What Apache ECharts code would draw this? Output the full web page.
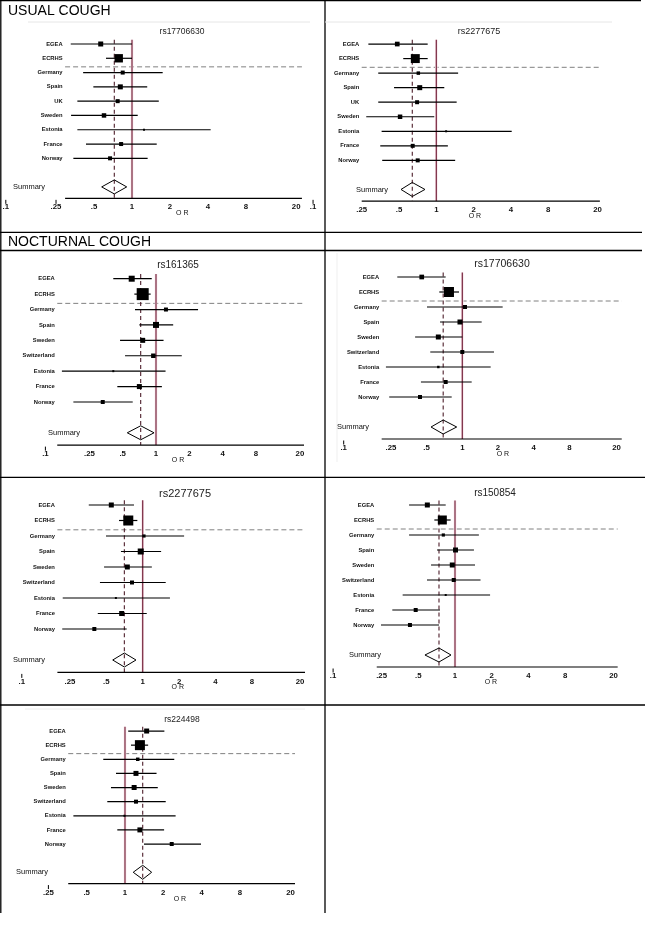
<!DOCTYPE html>
<html><head><meta charset="utf-8">
<script src="https://cdn.jsdelivr.net/npm/echarts@6/dist/echarts.min.js"></script>
<style>html,body{margin:0;padding:0;background:#fff}#c{width:656px;height:931px}</style>
</head><body><div id="c"></div>
<script>
// ---------------- DATA ----------------
const ROWS_USUAL = ['EGEA','ECRHS','Germany','Spain','UK','Sweden','Estonia','France','Norway'];
const ROWS_NOCT  = ['EGEA','ECRHS','Germany','Spain','Sweden','Switzerland','Estonia','France','Norway'];

const TICKS_FULL = [0.1, 0.25, 0.5, 1, 2, 4, 8, 20];
const TICK_TEXT_FULL = ['.1', '.25', '.5', '1', '2', '4', '8', '20'];
const TICKS_SHORT = [0.25, 0.5, 1, 2, 4, 8, 20];
const TICK_TEXT_SHORT = ['.25', '.5', '1', '2', '4', '8', '20'];

// Usual cough - rs17706630
const p1Or     = [0.565, 0.785, 0.844, 0.808, 0.77, 0.60, 1.245, 0.82, 0.67];
const p1Lo     = [0.327, 0.622, 0.41, 0.494, 0.369, 0.329, 0.369, 0.432, 0.343];
const p1Hi     = [1.0, 1.0, 1.75, 1.32, 1.63, 1.11, 4.2, 1.57, 1.33];
const p1Weight = [25, 70, 16, 25, 16, 20, 4, 16, 16];
const p1Summary = [0.724, 0.575, 0.908];   // estimate, lower, upper
const p1AxisSpan = [0.295, 22.2];

// Usual cough - rs2277675
const p2Or     = [0.484, 0.677, 0.716, 0.735, 0.70, 0.51, 1.2, 0.645, 0.708];
const p2Lo     = [0.283, 0.541, 0.34, 0.456, 0.34, 0.272, 0.362, 0.353, 0.366];
const p2Hi     = [0.852, 0.852, 1.5, 1.16, 1.46, 0.963, 4.06, 1.24, 1.42];
const p2Weight = [22, 80, 12, 25, 16, 20, 4, 16, 16];
const p2Summary = [0.64, 0.519, 0.81];
const p2AxisSpan = [0.25, 20.9];

// Nocturnal cough - rs161365
const p3Or     = [0.603, 0.758, 1.23, 1.0, 0.758, 0.946, 0.411, 0.707, 0.33];
const p3Lo     = [0.411, 0.637, 0.646, 0.707, 0.473, 0.525, 0.141, 0.447, 0.179];
const p3Hi     = [0.915, 0.895, 2.4, 1.43, 1.17, 1.71, 1.22, 1.13, 0.616];
const p3Weight = [36, 144, 16, 36, 25, 20, 4, 25, 16];
const p3Summary = [0.727, 0.55, 0.96];
const p3AxisSpan = [0.128, 21.8];

// Nocturnal cough - rs17706630
const p4Or     = [0.455, 0.772, 1.054, 0.956, 0.628, 1.0, 0.628, 0.724, 0.44];
const p4Lo     = [0.283, 0.64, 0.504, 0.649, 0.40, 0.537, 0.227, 0.448, 0.242];
const p4Hi     = [0.724, 0.938, 2.19, 1.457, 1.0, 1.85, 1.735, 1.2, 0.814];
const p4Weight = [22, 100, 16, 25, 25, 16, 6, 16, 16];
const p4Summary = [0.69, 0.545, 0.897];
const p4AxisSpan = [0.209, 22.1];

// Nocturnal cough - rs2277675
const p5Or     = [0.55, 0.76, 1.025, 0.963, 0.746, 0.816, 0.6, 0.67, 0.398];
const p5Lo     = [0.358, 0.637, 0.497, 0.661, 0.479, 0.443, 0.218, 0.425, 0.216];
const p5Hi     = [0.847, 0.903, 2.2, 1.42, 1.19, 1.55, 1.68, 1.08, 0.737];
const p5Weight = [25, 100, 10, 36, 25, 16, 4, 25, 16];
const p5Summary = [0.705, 0.565, 0.88];
const p5AxisSpan = [0.197, 22.0];

// Nocturnal cough - rs150854
const p6Or     = [0.593, 0.787, 0.802, 1.01, 0.95, 0.976, 0.839, 0.476, 0.427];
const p6Lo     = [0.42, 0.677, 0.42, 0.712, 0.636, 0.589, 0.372, 0.306, 0.247];
const p6Hi     = [0.839, 0.921, 1.57, 1.43, 1.46, 1.62, 1.94, 0.753, 0.739];
const p6Weight = [25, 81, 10, 25, 25, 16, 4, 16, 16];
const p6Summary = [0.739, 0.567, 0.927];
const p6AxisSpan = [0.228, 21.6];

// Nocturnal cough - rs224498
const p7Or     = [1.48, 1.31, 1.26, 1.22, 1.18, 1.22, 0.99, 1.31, 2.33];
const p7Lo     = [1.06, 1.115, 0.675, 0.85, 0.776, 0.726, 0.393, 0.87, 1.41];
const p7Hi     = [2.04, 1.52, 2.44, 1.77, 1.81, 2.09, 2.5, 2.03, 3.96];
const p7Weight = [25, 100, 12, 25, 25, 16, 4, 25, 16];
const p7Summary = [1.378, 1.16, 1.62];
const p7AxisSpan = [0.358, 21.7];

// ---------------- LAYOUT ----------------
const FONT = '"Liberation Sans", Arial, sans-serif';
const TOP_ROW = -0.3, SEP_ROW = 1.6, SUM_ROW = 10, AXIS_ROW = 10.8;

const panels = [
  {title:'rs17706630', rows:ROWS_USUAL, or:p1Or, lo:p1Lo, hi:p1Hi, w:p1Weight, sum:p1Summary, span:p1AxisSpan,
   ticks:TICKS_FULL.concat([27.2]), tickText:TICK_TEXT_FULL.concat(['.1']),
   L:{xMin:0.1, xMax:20, left:5.8, width:290.4, top:29.7, height:171.5, tx:182, ty:32, ts:8.5, sumX:13, orAt:2.5}},
  {title:'rs2277675', rows:ROWS_USUAL, or:p2Or, lo:p2Lo, hi:p2Hi, w:p2Weight, sum:p2Summary, span:p2AxisSpan,
   ticks:TICKS_SHORT, tickText:TICK_TEXT_SHORT,
   L:{xMin:0.25, xMax:20, left:361.7, width:235.8, top:29.5, height:174.5, tx:479, ty:32, ts:9, sumX:356, orAt:2.05}},
  {title:'rs161365', rows:ROWS_NOCT, or:p3Or, lo:p3Lo, hi:p3Hi, w:p3Weight, sum:p3Summary, span:p3AxisSpan,
   ticks:TICKS_FULL, tickText:TICK_TEXT_FULL,
   L:{xMin:0.1, xMax:20, left:45.4, width:254.5, top:263.3, height:184.9, tx:178, ty:265.5, ts:10, sumX:48, orAt:1.58}},
  {title:'rs17706630', rows:ROWS_NOCT, or:p4Or, lo:p4Lo, hi:p4Hi, w:p4Weight, sum:p4Summary, span:p4AxisSpan,
   ticks:TICKS_FULL, tickText:TICK_TEXT_FULL,
   L:{xMin:0.1, xMax:20, left:343.7, width:272.9, top:262, height:180, tx:502, ty:264.5, ts:10.5, sumX:337, orAt:2.2}},
  {title:'rs2277675', rows:ROWS_NOCT, or:p5Or, lo:p5Lo, hi:p5Hi, w:p5Weight, sum:p5Summary, span:p5AxisSpan,
   ticks:TICKS_FULL, tickText:TICK_TEXT_FULL,
   L:{xMin:0.1, xMax:20, left:21.8, width:278.2, top:489.5, height:186, tx:185, ty:493.5, ts:11, sumX:13, orAt:1.95}},
  {title:'rs150854', rows:ROWS_NOCT, or:p6Or, lo:p6Lo, hi:p6Hi, w:p6Weight, sum:p6Summary, span:p6AxisSpan,
   ticks:TICKS_FULL, tickText:TICK_TEXT_FULL,
   L:{xMin:0.1, xMax:20, left:333.1, width:280.5, top:490, height:180, tx:495, ty:493, ts:10, sumX:349, orAt:1.97}},
  {title:'rs224498', rows:ROWS_NOCT, or:p7Or, lo:p7Lo, hi:p7Hi, w:p7Weight, sum:p7Summary, span:p7AxisSpan,
   ticks:TICKS_SHORT, tickText:TICK_TEXT_SHORT,
   L:{xMin:0.25, xMax:20, left:48.4, width:242.1, top:716.9, height:169.5, tx:182, ty:720, ts:8.5, sumX:16, orAt:2.7}}
];

function txt(x, y, text, font, align, fill) {
  return {type:'text', x:x, y:y, silent:true,
    style:{text:text, font:font, fill:fill||'#000', align:align||'center', textAlign:align||'center',
           verticalAlign:'middle', textVerticalAlign:'middle'}};
}

function frameRender(P) {
  return function (params, api) {
    const ch = [];
    const a0 = api.coord([P.span[0], AXIS_ROW]), a1 = api.coord([P.span[1], AXIS_ROW]);
    const s0 = api.coord([P.span[0], SEP_ROW]), s1 = api.coord([P.span[1], SEP_ROW]);
    // horizontal dashed separator
    ch.push({type:'line', shape:{x1:s0[0], y1:s0[1], x2:s1[0], y2:s1[1]},
             style:{stroke:'#808080', lineWidth:1, lineDash:[5,3]}});
    // null line at OR = 1
    const v0 = api.coord([1, TOP_ROW]), v1 = api.coord([1, AXIS_ROW]);
    ch.push({type:'line', shape:{x1:v0[0], y1:v0[1], x2:v1[0], y2:v1[1]},
             style:{stroke:'#f7e1e7', lineWidth:2.6}});
    ch.push({type:'line', shape:{x1:v0[0], y1:v0[1], x2:v1[0], y2:v1[1]},
             style:{stroke:'#6e1a33', lineWidth:1.1}});
    // pooled estimate dashed line
    const d0 = api.coord([P.sum[0], TOP_ROW]), d1 = api.coord([P.sum[0], AXIS_ROW]);
    ch.push({type:'line', shape:{x1:d0[0], y1:d0[1], x2:d1[0], y2:d1[1]},
             style:{stroke:'#4e1f2b', lineWidth:1.1, lineDash:[4,3]}});
    // diamond
    const dc = api.coord([P.sum[0], SUM_ROW]), dl = api.coord([P.sum[1], SUM_ROW]), dr = api.coord([P.sum[2], SUM_ROW]);
    ch.push({type:'polygon', shape:{points:[[dl[0], dc[1]], [dc[0], dc[1]-7], [dr[0], dc[1]], [dc[0], dc[1]+7]]},
             style:{fill:'none', stroke:'#000', lineWidth:1}});
    // x axis line
    ch.push({type:'line', shape:{x1:a0[0], y1:a0[1], x2:a1[0], y2:a1[1]}, style:{stroke:'#000', lineWidth:1.2}});
    // tick labels
    P.ticks.forEach(function (t, i) {
      const c = api.coord([t, AXIS_ROW]);
      if (t < P.span[0] || t > P.span[1]) {
        ch.push({type:'line', shape:{x1:c[0], y1:c[1]+1.5, x2:c[0], y2:c[1]+5.5}, style:{stroke:'#000', lineWidth:1}});
      }
      ch.push(txt(c[0], c[1]+9, P.tickText[i], 'bold 7.8px ' + FONT, 'center', '#111'));
    });
    // OR label
    const oc = api.coord([P.L.orAt, AXIS_ROW]);
    ch.push(txt(oc[0], oc[1]+15, 'O R', '7px ' + FONT, 'center', '#111'));
    // row labels
    P.rows.forEach(function (name, i) {
      const c = api.coord([P.span[0], i]);
      ch.push(txt(c[0]-2.5, c[1], name, 'bold 5.8px ' + FONT, 'right', '#111'));
    });
    // Summary label
    ch.push(txt(P.L.sumX, dc[1], 'Summary', '7.5px ' + FONT, 'left', '#111'));
    return {type:'group', children:ch};
  };
}

const grid = [], xAxis = [], yAxis = [], series = [];
panels.forEach(function (P, k) {
  grid.push({left:P.L.left, top:P.L.top, width:P.L.width, height:P.L.height});
  xAxis.push({type:'log', logBase:10, gridIndex:k, min:P.L.xMin, max:P.L.xMax, show:false});
  yAxis.push({type:'value', gridIndex:k, min:-1, max:11, inverse:true, show:false});
  series.push({type:'custom', xAxisIndex:k, yAxisIndex:k, data:[[1, 0]], clip:false, silent:true,
               renderItem:frameRender(P), z:1});
  series.push({type:'custom', xAxisIndex:k, yAxisIndex:k, clip:false, silent:true, z:2,
               encode:{x:[0,2], y:1},
               data:P.lo.map(function (v, i) { return [v, i, P.hi[i]]; }),
               renderItem:function (params, api) {
                 const a = api.coord([api.value(0), api.value(1)]), b = api.coord([api.value(2), api.value(1)]);
                 return {type:'line', shape:{x1:a[0], y1:a[1], x2:b[0], y2:b[1]}, style:{stroke:'#000', lineWidth:1.2}};
               }});
  series.push({type:'scatter', xAxisIndex:k, yAxisIndex:k, silent:true, z:3, symbol:'rect',
               data:P.or.map(function (v, i) { return [v, i, P.w[i]]; }),
               symbolSize:function (d) { return Math.sqrt(d[2]); },
               itemStyle:{color:'#000', opacity:1}});
});

// frame, headers and titles
const graphic = [];
function gl(x1, y1, x2, y2, color, w) {
  graphic.push({type:'line', silent:true, shape:{x1:x1, y1:y1, x2:x2, y2:y2}, style:{stroke:color||'#000', lineWidth:w||1.3}});
}
gl(0, 0.7, 641, 0.7);
gl(0.8, 0, 0.8, 913);
gl(325, 0, 325, 913);
gl(0, 232.3, 642, 232.3);
gl(0, 250.5, 642, 250.5);
gl(0, 477.3, 645, 477.3);
gl(0, 705, 645, 705);
gl(28, 22, 310, 22, '#e6e6e6', 1);
gl(325, 22, 612, 22, '#e6e6e6', 1);
gl(25, 709, 305, 709, '#ececec', 1);
gl(337, 253, 337, 462, '#efefef', 1);
graphic.push(txt(8, 11.5, 'USUAL COUGH', '14px ' + FONT, 'left', '#000'));
graphic.push(txt(8, 242, 'NOCTURNAL COUGH', '14px ' + FONT, 'left', '#000'));
panels.forEach(function (P) {
  graphic.push(txt(P.L.tx, P.L.ty, P.title, P.L.ts + 'px ' + FONT, 'center', '#222'));
});

const chart = echarts.init(document.getElementById('c'), null, {renderer:'canvas'});
chart.setOption({animation:false, backgroundColor:'#fff', grid:grid, xAxis:xAxis, yAxis:yAxis, series:series, graphic:graphic});
</script>
</body></html>
